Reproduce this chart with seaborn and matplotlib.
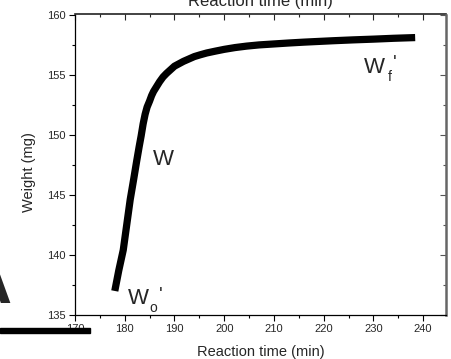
import matplotlib
matplotlib.use("Agg")
import matplotlib.pyplot as plt
import matplotlib.patches as mpatches
from matplotlib.ticker import MultipleLocator
import seaborn as sns
import pandas as pd

# ---- data ----
time_min = [178.0, 178.8, 179.7, 180.4, 181.1, 181.8, 182.4, 182.9, 183.3, 183.7,
            184.1, 184.5, 185.0, 185.4, 185.8, 186.4, 187.0, 187.7, 188.4, 189.2,
            190.0, 190.9, 191.8, 192.9, 194.0, 195.2, 196.5, 198.2, 200.0, 202.2,
            204.5, 207.0, 210.0, 213.0, 216.0, 219.0, 222.0, 226.0, 230.0, 234.0, 238.4]
weight_mg = [137.0, 138.7, 140.4, 142.5, 144.6, 146.3, 147.8, 149.0, 149.9, 150.9,
             151.7, 152.3, 152.8, 153.25, 153.6, 154.0, 154.4, 154.8, 155.1, 155.4,
             155.7, 155.9, 156.1, 156.3, 156.5, 156.65, 156.8, 156.95, 157.1, 157.25,
             157.37, 157.47, 157.55, 157.63, 157.7, 157.76, 157.82, 157.89, 157.95, 158.02, 158.08]
x_ticks = [170, 180, 190, 200, 210, 220, 230, 240]
y_ticks = [135, 140, 145, 150, 155, 160]
x_label = "Reaction time (min)"
y_label = "Weight (mg)"

df = pd.DataFrame({"t": time_min, "w": weight_mg})

sns.set_style("ticks")
plt.rcParams["font.family"] = ["Liberation Sans", "DejaVu Sans"]

fig = plt.figure(figsize=(4.52, 3.59), dpi=100)
ax = fig.add_axes([75/452, 1-315/359, (446-75)/452, (315-14.5)/359])

sns.lineplot(data=df, x="t", y="w", sort=False, color="black", lw=5.2,
             solid_capstyle="butt", solid_joinstyle="round", ax=ax, legend=False)

ax.set_xlim(170, 244.6)
ax.set_ylim(135, 160)
ax.set_xticks(x_ticks)
ax.set_yticks(y_ticks)
ax.xaxis.set_minor_locator(MultipleLocator(5))
ax.yaxis.set_minor_locator(MultipleLocator(2.5))
ax.tick_params(which="major", direction="out", length=4, width=0.8, labelsize=8, pad=2.5, color="black")
ax.tick_params(which="minor", direction="out", length=2.5, width=0.8, color="black")
ax.set_xlabel(x_label, fontsize=10.5, labelpad=8)
ax.set_ylabel(y_label, fontsize=10.5, labelpad=8, y=0.477)

for s in ["left", "bottom"]:
    ax.spines[s].set_color("black")
    ax.spines[s].set_linewidth(0.9)
ax.spines["top"].set_visible(False)
ax.spines["right"].set_visible(False)

top = ax.secondary_xaxis("top")
top.set_xticks(x_ticks)
top.xaxis.set_minor_locator(MultipleLocator(5))
top.tick_params(which="major", direction="in", length=4, width=0.8, labeltop=False)
top.tick_params(which="minor", direction="in", length=2.5, width=0.8)
top.set_xlabel(x_label, fontsize=12, labelpad=2.5)
top.spines["top"].set_color("#222222")
top.spines["top"].set_linewidth(1.2)

right = ax.secondary_yaxis("right")
right.set_yticks(y_ticks)
right.yaxis.set_minor_locator(MultipleLocator(2.5))
right.tick_params(which="major", direction="in", length=4, width=0.8, labelright=False, color="#555555")
right.tick_params(which="minor", direction="in", length=2.5, width=0.8, color="#555555")
right.spines["right"].set_color("#666666")
right.spines["right"].set_linewidth(1.8)

# annotations
ax.text(185.7, 147.45, "W", fontsize=16, ha="left", va="baseline")
ax.text(180.66, 135.9, "W", fontsize=16, ha="left", va="baseline")
ax.text(184.9, 135.25, "o", fontsize=10, ha="left", va="baseline")
ax.text(186.9, 137.3, "'", fontsize=14, ha="left", va="top")
ax.text(228.1, 155.1, "W", fontsize=16, ha="left", va="baseline")
ax.text(232.8, 154.45, "f", fontsize=10, ha="left", va="baseline")
ax.text(233.9, 156.6, "'", fontsize=14, ha="left", va="top")

# partial panel letter and bar at left edge
fig.text(11/452, 1-303/359, "A", fontsize=48, fontweight="bold", ha="right", va="baseline")
fig.add_artist(mpatches.Rectangle((0, 1-333/359), 90/452, 5/359,
                                  transform=fig.transFigure, color="black", zorder=10))

fig.savefig("out.png", dpi=100)
